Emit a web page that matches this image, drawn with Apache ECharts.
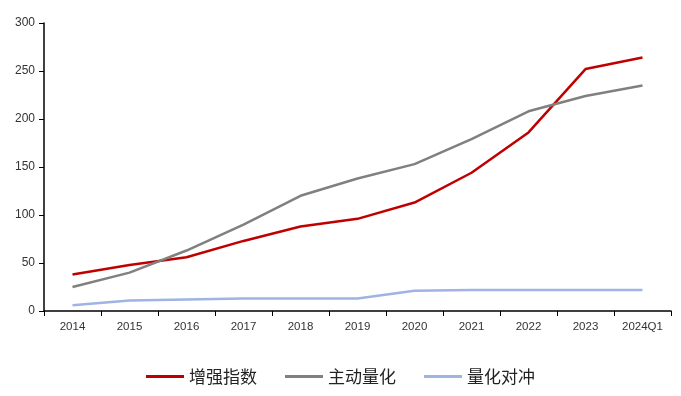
<!DOCTYPE html>
<html><head><meta charset="utf-8">
<script src="https://cdn.jsdelivr.net/npm/echarts@6/dist/echarts.min.js"></script>
<style>html,body{margin:0;padding:0;background:#fff}#c{width:681px;height:396px}</style>
</head><body><div id="c"></div>
<script>
const categories = ['2014','2015','2016','2017','2018','2019','2020','2021','2022','2023','2024Q1'];
const enhancedIndex = [38, 48, 56, 73, 88, 96, 113, 144, 186, 252, 264];
const activeQuant = [25, 40, 63, 90, 120, 138, 153, 179, 208, 224, 235];
const quantHedge = [6, 11, 12, 13, 13, 13, 21, 22, 22, 22, 22];
const seriesNames = ['增强指数', '主动量化', '量化对冲'];
const colors = ['#C00000', '#808080', '#9FB4E2'];

const chart = echarts.init(document.getElementById('c'));
const mk = (name, data, color) => ({
  name, type: 'line', data, symbol: 'none', smooth: false,
  lineStyle: { color, width: 2.5 }, itemStyle: { color }
});
chart.setOption({
  animation: false,
  grid: { left: 44, right: 10, top: 23, bottom: 85 },
  legend: {
    bottom: 6, left: 'center',
    icon: 'rect', itemWidth: 38, itemHeight: 3, itemGap: 28,
    textStyle: { fontFamily: 'Noto Sans CJK SC', fontSize: 17, color: '#222' },
    data: seriesNames
  },
  xAxis: {
    type: 'category', data: categories, boundaryGap: true,
    axisLine: { lineStyle: { color: '#000', width: 1.5 } },
    axisTick: { show: true, inside: false, length: 5, lineStyle: { color: '#000' } },
    axisLabel: { color: '#333', fontSize: 11.5, margin: 10, fontFamily: 'Liberation Sans' }
  },
  yAxis: {
    type: 'value', min: 0, max: 300, interval: 50,
    axisLine: { show: true, lineStyle: { color: '#000', width: 1.5 } },
    axisTick: { show: true, length: 5, lineStyle: { color: '#000' } },
    splitLine: { show: false },
    axisLabel: { color: '#333', fontSize: 12, margin: 9, fontFamily: 'Liberation Sans' }
  },
  series: [
    mk(seriesNames[0], enhancedIndex, colors[0]),
    mk(seriesNames[1], activeQuant, colors[1]),
    mk(seriesNames[2], quantHedge, colors[2])
  ]
});
</script></body></html>
